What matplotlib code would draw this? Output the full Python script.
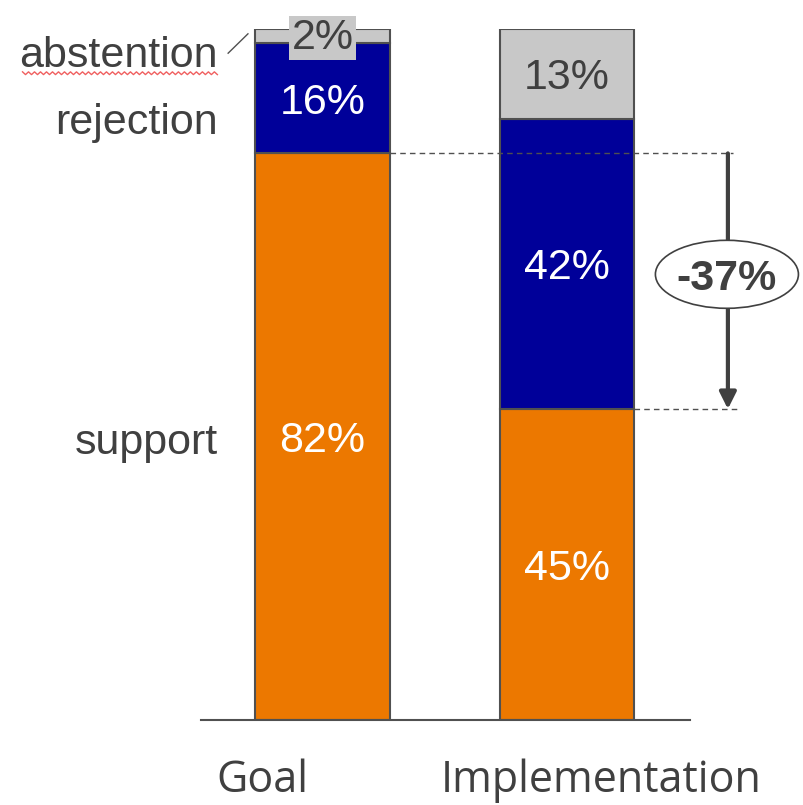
import numpy as np
import matplotlib.pyplot as plt
from matplotlib.patches import Ellipse

# vote shares per stage, in percent
stages = ['Goal', 'Implementation']
support = [82, 45]
rejection = [16, 42]
abstention = [2, 13]

orange = '#ec7800'
blue = '#000099'
grey = '#c8c8c8'
edge = '#505050'
dark = '#404040'

plt.rcParams['font.family'] = ['Liberation Sans', 'DejaVu Sans']

fig = plt.figure(figsize=(8.04, 8.05), dpi=100)
# axes placed so that 0..100 % runs from y=720 px to y=29 px
ax = fig.add_axes([201 / 804, 85 / 805, 489 / 804, 691 / 805])
ax.set_xlim(-0.497, 1.503)
ax.set_ylim(0, 100)

x = np.arange(len(stages))
w = 0.552
sup = np.array(support)
rej = np.array(rejection)
abst = np.array(abstention)

ax.bar(x, sup, w, color=orange, edgecolor=edge, linewidth=1.5)
ax.bar(x, rej, w, bottom=sup, color=blue, edgecolor=edge, linewidth=1.5)
ax.bar(x, abst, w, bottom=sup + rej, color=grey, edgecolor=edge, linewidth=1.5)

for s in ['top', 'right', 'left']:
    ax.spines[s].set_visible(False)
ax.spines['bottom'].set_color(edge)
ax.spines['bottom'].set_linewidth(1.5)
ax.set_xticks([])
ax.set_yticks([])

fs = 31
va = 'center_baseline'
for i in x:
    ax.text(i, sup[i] / 2, f'{sup[i]}%', color='white', fontsize=fs,
            ha='center', va=va)
    ax.text(i, sup[i] + rej[i] / 2, f'{rej[i]}%', color='white', fontsize=fs,
            ha='center', va=va)
    top = sup[i] + rej[i] + abst[i] / 2
    if abst[i] < 5:
        # thin segment: label sits on a grey box over the bar top
        ax.text(i, top - 0.3, f'{abst[i]}%', color=dark, fontsize=fs,
                ha='center', va='center',
                bbox=dict(facecolor=grey, edgecolor='none', pad=1.5))
    else:
        ax.text(i, top, f'{abst[i]}%', color=dark, fontsize=fs,
                ha='center', va=va)

# segment names on the left of the first bar
lx = -0.427
ax.text(lx, 96.7, 'abstention', color=dark, fontsize=fs, ha='right', va=va)
ax.text(lx, 87.1, 'rejection', color=dark, fontsize=fs, ha='right', va=va)
ax.text(lx, 40.8, 'support', color=dark, fontsize=fs, ha='right', va=va)
ax.plot([-0.386, -0.305], [96.5, 99.3], color=edge, lw=1, clip_on=False)

# squiggly underline below "abstention"
wx = np.linspace(-1.227, -0.43, 66)
wy = 93.6 + 0.2 * np.where(np.arange(66) % 2 == 0, 1, -1)
ax.plot(wx, wy, color='#f06060', lw=1, clip_on=False)

# stage names under the axis
ax.text((262 - 322.5) / 244.5, -10.4, stages[0], fontsize=31, color=dark,
        family=['Open Sans', 'DejaVu Sans'], ha='center', va='baseline')
ax.text((601 - 322.5) / 244.5, -10.4, stages[1], fontsize=31, color=dark,
        family=['Open Sans', 'DejaVu Sans'], ha='center', va='baseline')

# drop in support between the stages
ax.plot([w / 2, 1.68], [sup[0], sup[0]], color=edge, lw=1, ls=(0, (4, 3)),
        clip_on=False)
ax.plot([1 + w / 2, 1.70], [sup[1], sup[1]], color=edge, lw=1, ls=(0, (4, 3)),
        clip_on=False)
ax.annotate('', xy=(1.658, sup[1]), xytext=(1.658, sup[0]),
            arrowprops=dict(arrowstyle='-|>', color=dark, lw=3,
                            mutation_scale=25, shrinkA=0, shrinkB=0),
            annotation_clip=False)
ax.add_patch(Ellipse((1.654, 64.5), 0.585, 9.84, facecolor='white',
                     edgecolor=dark, lw=1.2, clip_on=False, zorder=5))
ax.text(1.654, 64.5, f'{sup[1] - sup[0]}%', fontsize=fs, fontweight='bold',
        color=dark, ha='center', va=va, zorder=6)

fig.savefig('out.png', dpi=100)
